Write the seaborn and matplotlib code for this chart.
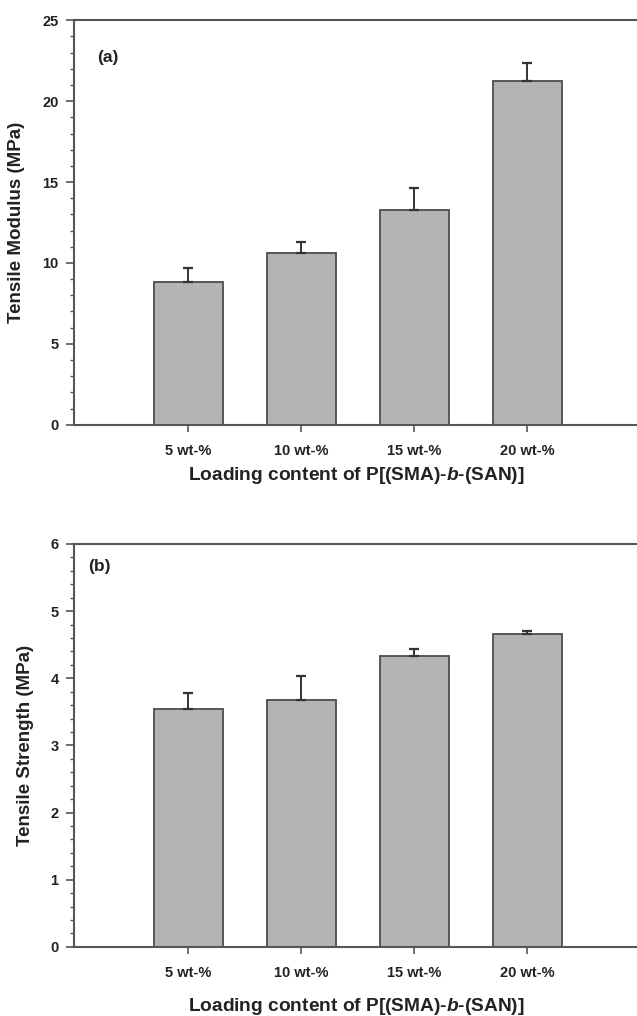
import matplotlib
matplotlib.use("Agg")
import matplotlib.pyplot as plt
import seaborn as sns
import numpy as np
import pandas as pd
from matplotlib.ticker import MultipleLocator

# data
loadings = ["5 wt-%", "10 wt-%", "15 wt-%", "20 wt-%"]
modulus = [8.85, 10.64, 13.27, 21.23]
modulus_err = [0.84, 0.68, 1.38, 1.13]
strength = [3.55, 3.68, 4.33, 4.66]
strength_err = [0.23, 0.36, 0.11, 0.05]

sns.set_style("white")
plt.rcParams['font.family'] = ['Liberation Sans', 'DejaVu Sans']
plt.rcParams['font.weight'] = 'bold'
plt.rcParams['mathtext.fontset'] = 'custom'
plt.rcParams['mathtext.rm'] = 'Liberation Sans:bold'
plt.rcParams['mathtext.it'] = 'Liberation Sans:italic:bold'

BAR = "#b4b4b4"
EDGE = "#4d4d4d"
SPINE = "#555555"
TXT = "#222222"
XLABEL = "Loading content of P[(SMA)-$\\mathit{b}$-(SAN)]"

fig = plt.figure(figsize=(6.37, 10.16), dpi=100)
ax1 = fig.add_axes([0.116, 0.582, 0.884, 0.398])
ax2 = fig.add_axes([0.116, 0.068, 0.884, 0.3966])


def draw_panel(ax, vals, errs, ymax, major, minor, ylabel, tag, tag_xy, ylab_x, xlab_y):
    df = pd.DataFrame({"load": loadings, "val": vals})
    sns.barplot(data=df, x="load", y="val", color=BAR, edgecolor=EDGE,
                linewidth=1.3, width=0.61, saturation=1, ax=ax)
    ax.errorbar(np.arange(len(vals)), vals, yerr=[np.zeros(len(errs)), errs],
                fmt="none", ecolor="#333333", elinewidth=1.4, capsize=3.6,
                capthick=1.6)
    ax.set_xlim(-1.01, 3.97)
    ax.set_ylim(0, ymax)
    ax.yaxis.set_major_locator(MultipleLocator(major))
    ax.yaxis.set_minor_locator(MultipleLocator(minor))
    ax.tick_params(axis="y", which="major", direction="out", length=6, width=1.2,
                   color=SPINE, pad=5, labelsize=10.5, labelcolor=TXT, left=True)
    ax.tick_params(axis="y", which="minor", direction="out", length=3, width=1.0,
                   color=SPINE, left=True)
    ax.tick_params(axis="x", direction="out", length=5, width=1.2, color=SPINE,
                   pad=9, labelsize=10.5, labelcolor=TXT, bottom=True)
    for side in ["left", "top", "bottom"]:
        ax.spines[side].set_color(SPINE)
        ax.spines[side].set_linewidth(1.5)
    ax.spines["right"].set_visible(False)
    ax.set_ylabel(ylabel, fontsize=13.5, fontweight="bold", color=TXT)
    ax.yaxis.set_label_coords(ylab_x, 0.5)
    ax.set_xlabel(XLABEL, fontsize=13.8, fontweight="bold", color=TXT)
    ax.xaxis.set_label_coords(0.502, xlab_y)
    ax.text(tag_xy[0], tag_xy[1], tag, transform=ax.transAxes, fontsize=12.5,
            fontweight="bold", color=TXT, va="center", ha="left")


draw_panel(ax1, modulus, modulus_err, 25, 5, 1, "Tensile Modulus (MPa)", "(a)",
           (0.041, 0.909), -0.086, -0.10)
draw_panel(ax2, strength, strength_err, 6, 1, 0.2, "Tensile Strength (MPa)", "(b)",
           (0.025, 0.943), -0.07, -0.122)

fig.savefig("out.png", dpi=100)
